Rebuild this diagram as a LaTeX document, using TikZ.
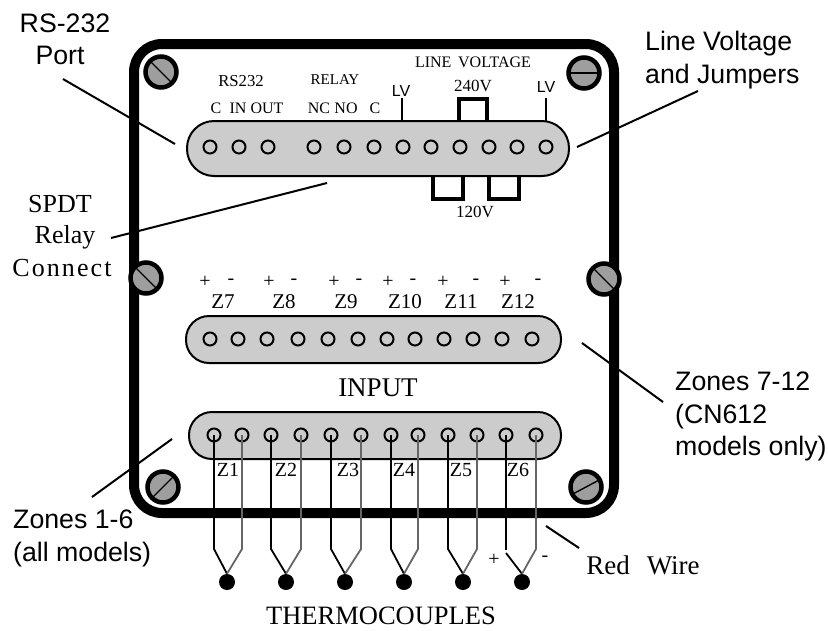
\documentclass[tikz,border=0pt]{standalone}
\usepackage{fontspec}
\setmainfont{Liberation Serif}
\newfontfamily\sansf{Liberation Sans}
\definecolor{strip}{gray}{0.8}
\definecolor{screwgray}{gray}{0.62}
\definecolor{wiregray}{gray}{0.4}
\tikzset{
 x=1pt,y=-1pt,
 serif/.style={inner sep=0pt,font=\fontsize{#1}{#1}\selectfont},
 spaced/.style={inner sep=0pt,font=\fontsize{#1}{#1}\selectfont\addfontfeature{LetterSpace=8}},
 sans/.style={inner sep=0pt,font=\sansf\fontsize{#1}{#1}\selectfont},
 note/.style={inner sep=0pt,align=left,anchor=north west,font=\sansf\fontsize{26.7}{32.5}\selectfont},
 leader/.style={draw=black,line width=2pt},
 stripbox/.style={draw=black,fill=strip,line width=2pt},
 hole/.style={circle,draw=black,line width=2pt,minimum size=13pt,inner sep=0pt},
 screw/.style={circle,draw=black,fill=screwgray,line width=4.5pt,minimum size=31pt,inner sep=0pt},
 jumper/.style={draw=black,line width=3.8pt,line cap=butt},
 bwire/.style={draw=black,line width=1.8pt},
 gwire/.style={draw=wiregray,line width=1.8pt},
 dot/.style={circle,fill=black,minimum size=16pt,inner sep=0pt},
}
\begin{document}
\begin{tikzpicture}
\useasboundingbox (0,0) rectangle (828,630);
% frame
\draw[line width=10pt,rounded corners=28pt] (134,44) rectangle (614,513);
% leaders
\coordinate (l1a) at (63,79); \coordinate (l1b) at (175,144);
\coordinate (l2a) at (111,238); \coordinate (l2b) at (327,183);
\coordinate (l3a) at (698,91); \coordinate (l3b) at (577,147);
\coordinate (l4a) at (582,343); \coordinate (l4b) at (663,402);
\coordinate (l5a) at (172,439); \coordinate (l5b) at (92,497);
\coordinate (l6a) at (546,526); \coordinate (l6b) at (579,548);
\foreach \a/\b in {l1a/l1b,l2a/l2b,l3a/l3b,l4a/l4b,l5a/l5b,l6a/l6b} \draw[leader] (\a) -- (\b);
% screws
\foreach \n/\x/\y/\a in {s1/161/72/45,s2/584/73/0,s3/146/278/45,s4/604/279/45,s5/163/487/-45,s6/586/487/-28}{
  \node[screw] (\n) at (\x,\y) {};
  \draw[line width=1.4pt] (\n.center) ++(\a:15) -- ++(\a+180:30);
}
% strips
\draw[stripbox,rounded corners=27pt] (187,121) rectangle (569,176);
\draw[stripbox,rounded corners=23pt] (186,316) rectangle (561,363);
\draw[stripbox,rounded corners=23pt] (189,412) rectangle (561,459);
% ticks, jumpers
\draw[leader] (402,98) -- (402,121);
\draw[leader] (546,98) -- (546,121);
\draw[jumper] (459,121) -- (459,99) -- (487,99) -- (487,121);
\draw[jumper] (433,176) -- (433,199) -- (463,199) -- (463,176);
\draw[jumper] (489,176) -- (489,199) -- (519,199) -- (519,176);
% holes
\foreach \x [count=\i] in {210,239,268,314,344,374,403,431,460,489,517,546}
  \node[hole] (t\i) at (\x,147) {};
\foreach \x [count=\i] in {210,238,267,298,328,358,387,415,444,473,502,532}
  \node[hole] (m\i) at (\x,339) {};
\foreach \x [count=\i] in {214,242,271,301,331,361,391,418,448,477,506,536}
  \node[hole] (b\i) at (\x,435) {};
% thermocouples
\foreach \x [count=\i] in {227,286,345,404,463,522}
  \node[dot] (d\i) at (\x,582) {};
\foreach \p/\g/\d in {1/2/1,3/4/2,5/6/3,7/8/4,9/10/5}{
  \draw[bwire] (b\p.center) -- (b\p.center |- 0,549) -- (d\d.north);
  \draw[gwire] (b\g.center) -- (b\g.center |- 0,549) -- (d\d.north);
}
\coordinate (z6a) at (506,550); \coordinate (z6b) at (506,553);
\draw[bwire] (b11.center) -- (z6a);
\draw[bwire] (z6b) -- (d6.north);
\draw[gwire] (b12.center) -- (b12.center |- 0,549) -- (d6.north);
% serif labels
\node[serif=16.7] (rs) at (241,81) {RS232};
\node[serif=16] (c1) at (216,108) {C};
\node[serif=16] (in) at (238,108) {IN};
\node[serif=16] (out) at (267,108) {OUT};
\node[serif=15] (rel) at (335,80) {RELAY};
\node[serif=16] (nc) at (319,108) {NC};
\node[serif=16] (no) at (346,108) {NO};
\node[serif=16] (c2) at (375,108) {C};
\node[serif=16] (lv) at (473,62) {LINE\, VOLTAGE};
\node[serif=17] (v240) at (473,86) {240V};
\node[serif=17] (v120) at (475,212) {120V};
\node[sans=16] (lv1) at (401,91) {LV};
\node[sans=16] (lv2) at (546,87) {LV};
\foreach \n/\x/\t in {z7/223/Z7,z8/284/Z8,z9/346/Z9,z10/405/Z10,z11/461/Z11,z12/518/Z12}
  \node[serif=21] (\n) at (\x,302) {\t};
\foreach \n/\x/\t in {pa/205/+,ma/231/-,pb/269/+,mb/294/-,pc/334/+,mc/359/-,pd/388/+,md/413/-,pe/443/+,me/476/-,pf/505/+,mf/538/-}
  \node[serif=20] (\n) at (\x,282) {\t};
\node[serif=27] (input) at (378,388) {INPUT};
\foreach \n/\x/\t in {z1/228/Z1,z2/286/Z2,z3/348/Z3,z4/404/Z4,z5/461/Z5,z6/518/Z6}
  \node[serif=20] (\n) at (\x,470) {\t};
\node[serif=20] (plus) at (494,560) {+};
\node[serif=20] (minus) at (545,559) {-};
\node[serif=27] (red) at (643,565) {Red\hspace{17pt}Wire};
\node[serif=26.5] (tc) at (381,616) {THERMOCOUPLES};
\node[serif=26] (spdt1) at (60,204) {SPDT};
\node[serif=26] (spdt2) at (65,237) {Relay};
\node[spaced=26] (spdt3) at (62,268) {Connect};
% sans notes
\node[sans=26.7] (n1a) at (65,23) {RS-232};
\node[sans=26.7] (n1b) at (60,55) {Port};
\node[note] (n2) at (645,31) {Line Voltage\\and Jumpers};
\node[note] (n3) at (675,372) {Zones 7-12\\(CN612\\models only)};
\node[note] (n4) at (13,510) {Zones 1-6\\(all models)};
\end{tikzpicture}
\end{document}
